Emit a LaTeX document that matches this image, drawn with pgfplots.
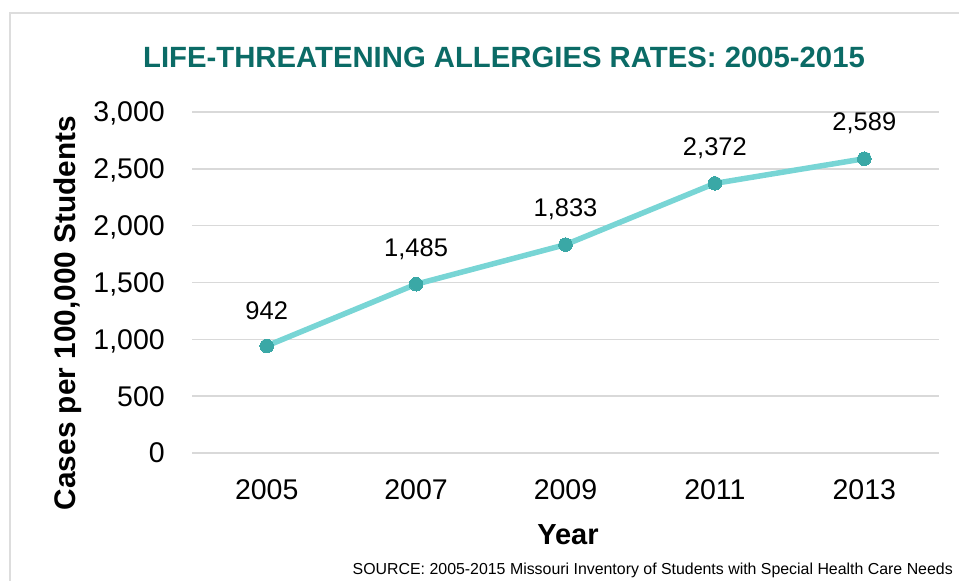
\documentclass[border=0pt]{standalone}
\usepackage{pgfplots}
\pgfplotsset{compat=1.18}
\usepackage{fontspec}
\setmainfont{Liberation Sans}

\definecolor{titleteal}{HTML}{0B6B66}
\definecolor{linecol}{HTML}{78D5D5}
\definecolor{markcol}{HTML}{3AA8A6}
\definecolor{gridgray}{HTML}{D9D9D9}
\definecolor{framegray}{HTML}{DDDDDD}

\begin{document}
\begin{tikzpicture}[x=1pt,y=1pt]
\path[use as bounding box] (0,0) rectangle (959,581);
% light frame along the top and left edge
\draw[framegray, line width=2pt] (10,0) -- (10,568) -- (959,568);

\begin{axis}[
  at={(192pt,128pt)}, anchor=south west,
  scale only axis, width=747pt, height=341pt,
  xmin=-0.5, xmax=4.5, ymin=0, ymax=3000,
  xtick={0,1,2,3,4},
  xticklabels={2005,2007,2009,2011,2013},
  ytick={0,500,1000,1500,2000,2500,3000},
  axis line style={draw=none},
  major tick style={draw=none},
  ymajorgrids,
  grid style={gridgray, line width=1.6pt},
  /pgf/number format/assume math mode=true,
  /pgf/number format/1000 sep={,},
  yticklabel style={font=\fontsize{28.5}{30}\selectfont, anchor=base east, inner sep=0pt, xshift=-27pt, yshift=-10pt},
  xticklabel style={font=\fontsize{28.5}{30}\selectfont, anchor=center, inner sep=0pt, yshift=-37pt},
  nodes near coords,
  every node near coord/.append style={font=\fontsize{25.5}{28}\selectfont, anchor=center, inner sep=0pt, yshift=35pt, text=black},
  clip=false,
]
\addplot[linecol, line width=5.5pt, mark=*, mark size=6.8pt,
  mark options={draw=markcol, fill=markcol, line width=0pt}]
  coordinates {(0,942) (1,1485) (2,1833) (3,2372) (4,2589)};
\end{axis}

\node[text=titleteal, font=\bfseries\fontsize{29.3}{32}\selectfont, inner sep=0pt] at (504,524) {LIFE-THREATENING ALLERGIES RATES: 2005-2015};
\node[font=\bfseries\fontsize{29.8}{32}\selectfont, inner sep=0pt, rotate=90] at (68,268) {Cases per 100,000 Students};
\node[font=\bfseries\fontsize{29}{32}\selectfont, inner sep=0pt] at (568,46) {Year};
\node[font=\fontsize{15.9}{17}\selectfont, inner sep=0pt, anchor=east] at (953,11) {SOURCE: 2005-2015 Missouri Inventory of Students with Special Health Care Needs};
\end{tikzpicture}
\end{document}
